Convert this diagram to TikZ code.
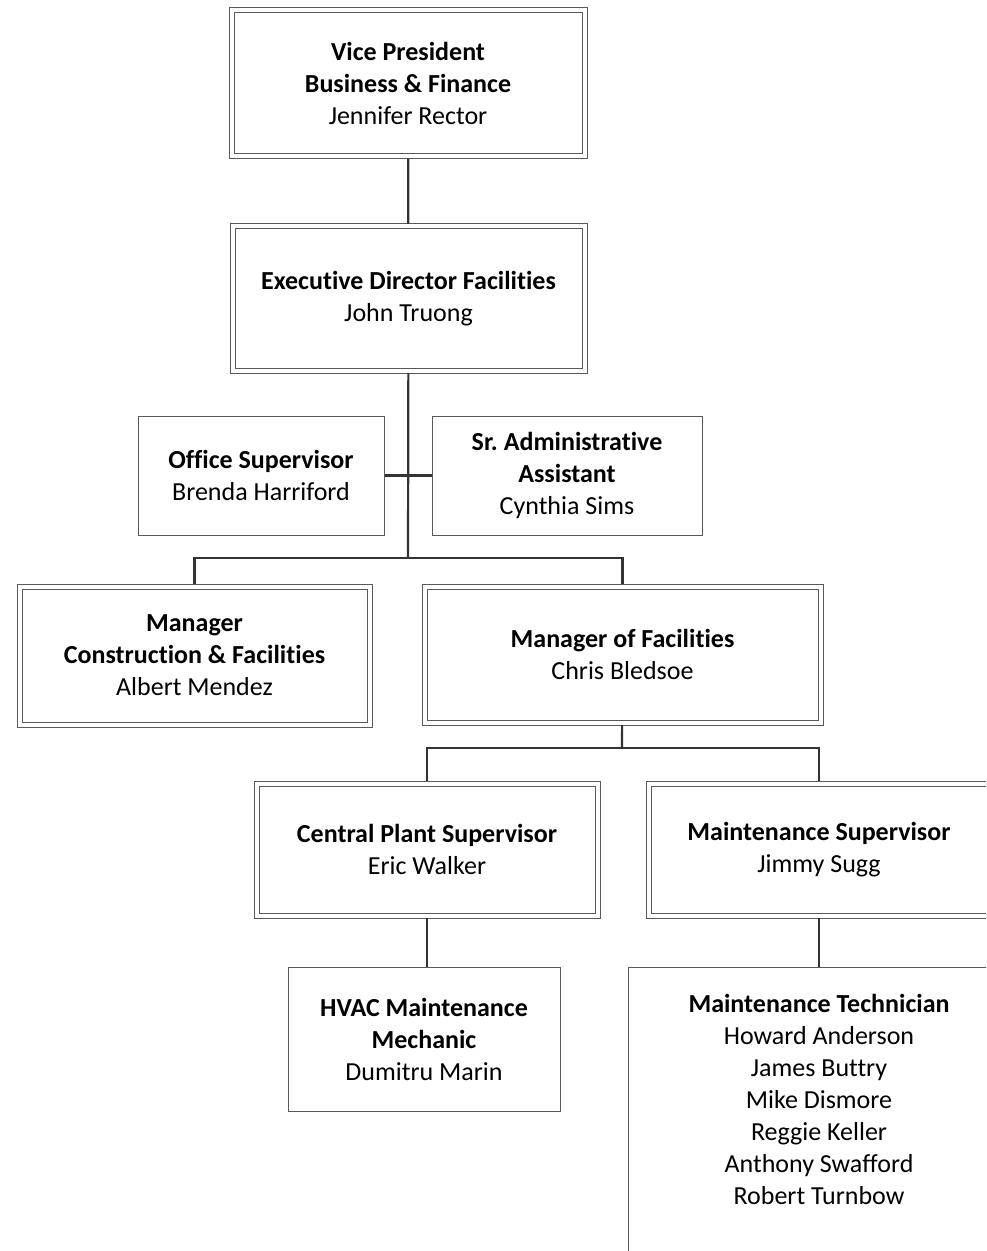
\documentclass[tikz,border=0pt]{standalone}
\usepackage{fontspec}
\setmainfont{Carlito}[Ligatures=NoCommon]
\frenchspacing
\tikzset{
  dbox/.style={draw=black!65,line width=0.5pt,double=white,double distance=2pt,
    fill=white,align=center,inner sep=0pt,outer sep=1.25pt},
  sbox/.style={draw=black!65,line width=0.5pt,fill=white,align=center,
    inner sep=0pt,outer sep=0.25pt},
  link/.style={draw=black!80,line width=1.1pt}
}
\newcommand{\role}[1]{\textbf{#1}}
\begin{document}
\begin{tikzpicture}[x=0.5pt,y=-0.5pt,font=\fontsize{13}{16}\selectfont]
\useasboundingbox (0,0) rectangle (986,1251);
\clip (0,0) rectangle (986,1251);
\fill[white] (0,0) rectangle (986,1251);

% boxes
\node[dbox,minimum width=176.5pt,minimum height=73pt] (vp) at (408,83.5)
  {\role{Vice President}\\\role{Business \& Finance}\\Jennifer Rector};
\node[dbox,minimum width=176pt,minimum height=72pt] (exec) at (408.5,298.5)
  {\role{Executive Director Facilities}\\John Truong};
\node[sbox,minimum width=123pt,minimum height=59.5pt] (office) at (261,475.5)
  {\role{Office Supervisor}\\Brenda Harriford};
\node[sbox,minimum width=135pt,minimum height=59.5pt] (admin) at (567,475.5)
  {\role{Sr. Administrative}\\\role{Assistant}\\Cynthia Sims};
\node[dbox,minimum width=175pt,minimum height=69pt] (mgrcon) at (194.5,655.5)
  {\role{Manager}\\\role{Construction \& Facilities}\\Albert Mendez};
\node[dbox,minimum width=198pt,minimum height=68pt] (mgrfac) at (622.5,654.5)
  {\role{Manager of Facilities}\\Chris Bledsoe};
\node[dbox,minimum width=170.5pt,minimum height=66pt] (plant) at (427,849.5)
  {\role{Central Plant Supervisor}\\Eric Walker};
\node[dbox,minimum width=170.5pt,minimum height=66pt] (maint) at (819,849.5)
  {\role{Maintenance Supervisor}\\Jimmy Sugg};
\node[sbox,minimum width=136pt,minimum height=72pt] (hvac) at (424,1039)
  {\role{HVAC Maintenance}\\\role{Mechanic}\\Dumitru Marin};
\node[sbox,minimum width=191pt,minimum height=170pt,anchor=north] (tech) at (819,967) {};
\node[align=center,inner sep=0pt] (techlist) at (819,1099)
  {\role{Maintenance Technician}\\Howard Anderson\\James Buttry\\Mike Dismore\\
   Reggie Keller\\Anthony Swafford\\Robert Turnbow};

% connectors
\coordinate (bus1) at (408,558);
\coordinate (bus2) at (622,748);
\draw[link] (vp) -- (exec);
\draw[link] (exec) -- (bus1);
\draw[link] (office) -- (admin);
\draw[link] (mgrcon.north) |- (bus1) -| (mgrfac.north);
\draw[link] (mgrfac) -- (bus2);
\draw[link] (plant.north) |- (bus2) -| (maint.north);
\draw[link] (plant.south) -- (plant.south |- hvac.north);
\draw[link] (maint) -- (tech);
\end{tikzpicture}
\end{document}
